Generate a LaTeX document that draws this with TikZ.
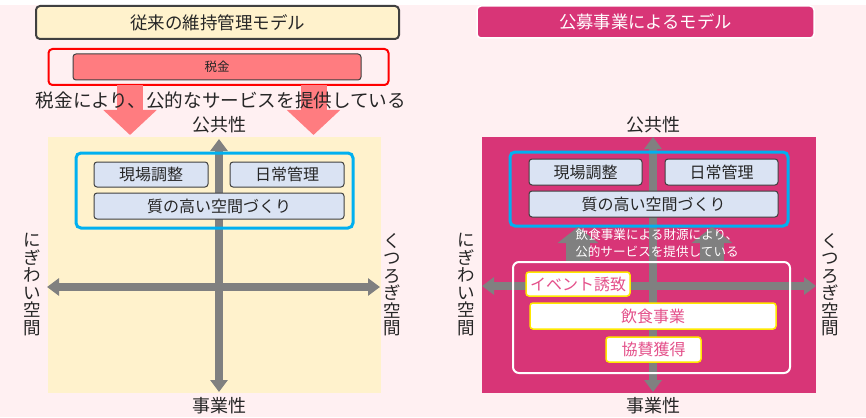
\documentclass[tikz,border=0pt]{standalone}
\usepackage{fontspec}
\setmainfont{Noto Sans CJK JP}
\usetikzlibrary{arrows.meta}
\definecolor{bgpink}{HTML}{FFF0F2}
\definecolor{ltyellow}{HTML}{FFF2CC}
\definecolor{magenta}{HTML}{D83577}
\definecolor{redarrow}{HTML}{FF7C80}
\definecolor{axgrey}{HTML}{808080}
\definecolor{blueline}{HTML}{00B0F0}
\definecolor{boxblue}{HTML}{DAE3F3}
\definecolor{darkline}{HTML}{404040}
\definecolor{txt}{HTML}{262626}
\definecolor{pinktext}{HTML}{E4508A}
\definecolor{yellowline}{HTML}{FFE800}
\tikzset{
  fs/.style={font=\fontsize{#1}{#1}\selectfont},
  sized/.style args={#1x#2}{minimum width=#1pt, minimum height=#2pt, inner sep=0pt, outer sep=0pt},
  lbl/.style={text=txt, inner sep=0pt},
  itembox/.style={draw=darkline, line width=1pt, fill=boxblue, rounded corners=3pt, text=txt, fs=16},
  pinkbox/.style={draw=yellowline, line width=1.5pt, fill=white, rounded corners=3pt, text=pinktext, fs=16},
  axis/.style={draw=axgrey, line width=8pt, {Triangle[width=17pt,length=12pt]}-{Triangle[width=17pt,length=12pt]}},
  redarr/.style={draw=redarrow, line width=26pt, -{Triangle[width=52pt,length=25pt]}},
  greyarr/.style={draw=axgrey, line width=24pt, -{Triangle[width=40pt,length=16pt]}},
  vlabel/.style={align=center, text=txt, inner sep=0pt, font=\fontsize{17.5}{17.5}\selectfont},
}
\begin{document}
\begin{tikzpicture}[x=1pt,y=-1pt]
\useasboundingbox (0,0) rectangle (866,417);
\fill[white] (0,0) rectangle (866,417);
\fill[bgpink] (0,5) rectangle (866,417);

% ---------------- left panel ----------------
\node[sized=363x33, draw=darkline, line width=2pt, fill=ltyellow, rounded corners=4pt, text=txt, fs=17.5] (ltitle) at (217.5,22.5) {従来の維持管理モデル};
\node[sized=340x36, draw=red, line width=2pt, rounded corners=4pt] (redbox) at (218.5,67) {};
\node[sized=288x26, draw=darkline, line width=1pt, fill=redarrow, rounded corners=3pt, text=txt, fs=12.5] (tax) at (217,67) {税金};
\coordinate (ra1s) at (130,85);
\coordinate (ra1e) at (130,135);
\coordinate (ra2s) at (313.5,85);
\coordinate (ra2e) at (313.5,135);
\draw[redarr] (ra1s) -- (ra1e);
\draw[redarr] (ra2s) -- (ra2e);
\node[lbl, fs=18.6] (taxtext) at (221,100) {税金により、公的なサービスを提供している};
\node[lbl, fs=18] (lpub) at (219,125) {公共性};
\node[sized=333x256, fill=ltyellow] (lquad) at (214.5,265) {};
\coordinate (lvt) at (219,139);
\coordinate (lvb) at (219,392);
\coordinate (lhl) at (47,287);
\coordinate (lhr) at (380,287);
\draw[axis] (lvb) -- (lvt);
\draw[axis] (lhl) -- (lhr);
\node[sized=277x75, draw=blueline, line width=3pt, rounded corners=5pt] (lblue) at (214.5,190.5) {};
\node[sized=114x25, itembox] (lgen) at (151,174.5) {現場調整};
\node[sized=114x25, itembox] (lnich) at (287,174.5) {日常管理};
\node[sized=250x26, itembox] (lshitsu) at (219,206) {質の高い空間づくり};
\node[vlabel] (lnigi) at (32,284.5) {に\\ぎ\\わ\\い\\空\\間};
\node[vlabel] (lkuts) at (392,284.5) {く\\つ\\ろ\\ぎ\\空\\間};
\node[lbl, fs=18] (lbiz) at (219,406) {事業性};

% ---------------- right panel ----------------
\node[sized=337x32, draw=white, line width=1.5pt, fill=magenta, rounded corners=4pt, text=white, fs=17.3] (rtitle) at (645.5,22) {公募事業によるモデル};
\node[lbl, fs=18] (rpub) at (653,125) {公共性};
\node[sized=334x256, fill=magenta] (rquad) at (649,265) {};
\coordinate (rvt) at (653,137);
\coordinate (rvb) at (653,392);
\coordinate (rhl) at (482,286);
\coordinate (rhr) at (816,286);
\draw[axis] (rvb) -- (rvt);
\draw[axis] (rhl) -- (rhr);
\node[sized=278x74, draw=blueline, line width=3pt, rounded corners=5pt] (rblue) at (649,189) {};
\node[sized=113x26, itembox] (rgen) at (585.5,172) {現場調整};
\node[sized=113x26, itembox] (rnich) at (721.5,172) {日常管理};
\node[sized=249x26, itembox] (rshitsu) at (653.5,204) {質の高い空間づくり};
\coordinate (ga1s) at (578,261);
\coordinate (ga1e) at (578,227);
\coordinate (ga2s) at (712,261);
\coordinate (ga2e) at (712,227);
\draw[greyarr] (ga1s) -- (ga1e);
\draw[greyarr] (ga2s) -- (ga2e);
\node[align=center, text=white, inner sep=0pt, font=\fontsize{12.6}{17}\selectfont] (fund) at (657,243.5) {飲食事業による財源により、\\公的サービスを提供している};
\node[sized=277x111, draw=white, line width=2pt, rounded corners=6pt] (rwhite) at (651.5,317.5) {};
\node[sized=104x24, pinkbox] (event) at (578,284) {イベント誘致};
\node[sized=246x26, pinkbox] (food) at (653,316) {飲食事業};
\node[sized=95x25, pinkbox] (spons) at (653.5,349.5) {協賛獲得};
\node[vlabel] (rnigi) at (466,284.5) {に\\ぎ\\わ\\い\\空\\間};
\node[vlabel] (rkuts) at (830,284.5) {く\\つ\\ろ\\ぎ\\空\\間};
\node[lbl, fs=18] (rbiz) at (653,406) {事業性};
\end{tikzpicture}
\end{document}
